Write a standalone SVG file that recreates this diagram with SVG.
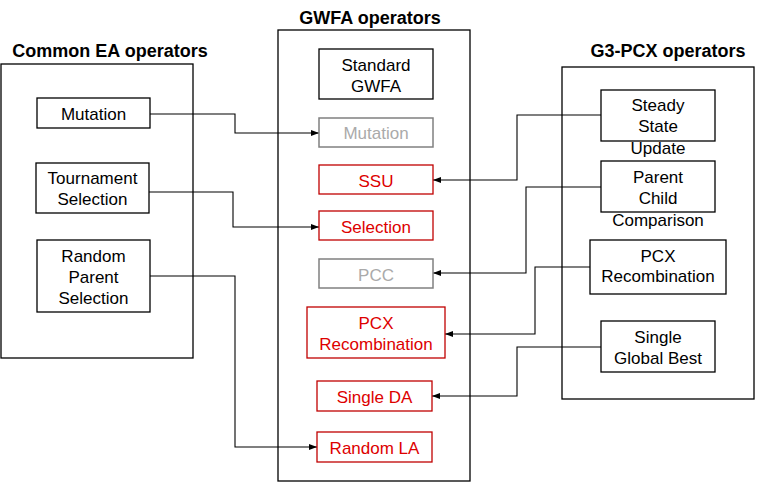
<svg xmlns="http://www.w3.org/2000/svg" width="758" height="482" viewBox="0 0 758 482">
<defs>
<marker id="arr" viewBox="0 0 8 8" refX="8" refY="4" markerWidth="8" markerHeight="8" markerUnits="userSpaceOnUse" orient="auto">
<path d="M0,1 L8,4 L0,7 Z" fill="#000"/>
</marker>
<style>
.grp{fill:none;stroke:#000;stroke-width:1.3}
.title{font-family:"Liberation Sans",Arial,sans-serif;font-weight:bold;font-size:18px;fill:#000;text-anchor:middle}
.t{font-family:"Liberation Sans",Arial,sans-serif;font-size:17px;text-anchor:middle}
.blk rect{fill:#fff;stroke:#000;stroke-width:1.3}
.blk text{fill:#000}
.gry rect{fill:#fff;stroke:#808080;stroke-width:1.5}
.gry text{fill:#aaaaaa}
.red rect{fill:#fff;stroke:#c00000;stroke-width:1.3}
.red text{fill:#dd0000}
.con path{fill:none;stroke:#000;stroke-width:1.1;marker-end:url(#arr)}
</style>
</defs>
<rect width="758" height="482" fill="#fff"/>

<g id="common-ea">
<text class="title" x="110" y="57">Common EA operators</text>
<rect class="grp" x="1" y="64" width="192" height="294"/>
</g>
<g id="gwfa">
<text class="title" x="370" y="24">GWFA operators</text>
<rect class="grp" x="278" y="30" width="192" height="451"/>
</g>
<g id="g3pcx">
<text class="title" x="668" y="57">G3-PCX operators</text>
<rect class="grp" x="562" y="67" width="192" height="332"/>
</g>

<g class="con" id="connectors">
<path d="M150,114 H235 V133 H319"/>
<path d="M149,192 H233 V227 H319"/>
<path d="M150,276 H235 V447 H317"/>
<path d="M601,115 H517 V180 H433"/>
<path d="M601,187 H526 V273 H433"/>
<path d="M590,267 H535 V334 H445"/>
<path d="M601,347 H517 V396 H432"/>
</g>

<g id="ea-mutation" class="blk"><rect x="37" y="98" width="113" height="30"/><text class="t" x="93.5" y="120">Mutation</text></g>
<g id="ea-tournament" class="blk"><rect x="36" y="163" width="113" height="50"/><text class="t" x="92.5" y="184">Tournament</text><text class="t" x="92.5" y="205">Selection</text></g>
<g id="ea-random-parent" class="blk"><rect x="37" y="240" width="113" height="72"/><text class="t" x="93.5" y="262">Random</text><text class="t" x="93.5" y="283">Parent</text><text class="t" x="93.5" y="304">Selection</text></g>

<g id="gw-standard" class="blk"><rect x="319" y="49" width="114" height="50"/><text class="t" x="376" y="71">Standard</text><text class="t" x="376" y="92">GWFA</text></g>
<g id="gw-mutation" class="gry"><rect x="319" y="118" width="114" height="29"/><text class="t" x="376" y="139">Mutation</text></g>
<g id="gw-ssu" class="red"><rect x="319" y="165" width="114" height="29"/><text class="t" x="376" y="187">SSU</text></g>
<g id="gw-selection" class="red"><rect x="319" y="211" width="114" height="29"/><text class="t" x="376" y="233">Selection</text></g>
<g id="gw-pcc" class="gry"><rect x="319" y="259" width="114" height="29"/><text class="t" x="376" y="281">PCC</text></g>
<g id="gw-pcx" class="red"><rect x="307" y="307" width="138" height="51"/><text class="t" x="376" y="329">PCX</text><text class="t" x="376" y="350">Recombination</text></g>
<g id="gw-single-da" class="red"><rect x="317" y="381" width="115" height="30"/><text class="t" x="374.5" y="403">Single DA</text></g>
<g id="gw-random-la" class="red"><rect x="317" y="432" width="115" height="30"/><text class="t" x="374.5" y="454">Random LA</text></g>

<g id="g3-ssu" class="blk"><rect x="601" y="90" width="114" height="51"/><text class="t" x="658" y="111">Steady</text><text class="t" x="658" y="132">State</text><text class="t" x="658" y="154">Update</text></g>
<g id="g3-pcc" class="blk"><rect x="601" y="161" width="114" height="51"/><text class="t" x="658" y="183">Parent</text><text class="t" x="658" y="204">Child</text><text class="t" x="658" y="226">Comparison</text></g>
<g id="g3-pcx" class="blk"><rect x="590" y="240" width="136" height="54"/><text class="t" x="658" y="262">PCX</text><text class="t" x="658" y="282">Recombination</text></g>
<g id="g3-sgb" class="blk"><rect x="601" y="321" width="114" height="51"/><text class="t" x="658" y="343">Single</text><text class="t" x="658" y="364">Global Best</text></g>
</svg>
